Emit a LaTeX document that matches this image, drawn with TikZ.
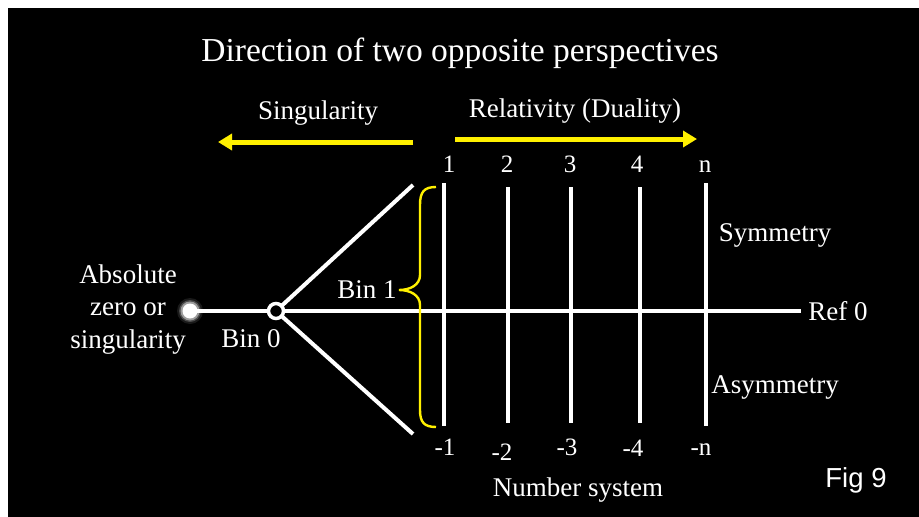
\documentclass[tikz,border=0pt]{standalone}
\usepackage{fontspec}
\setmainfont{Liberation Serif}
\newfontfamily\figfont{Liberation Sans}
\usetikzlibrary{arrows.meta}
\definecolor{arrowyellow}{RGB}{255,240,0}
\begin{document}
\begin{tikzpicture}[x=1pt,y=-1pt,
  lbl/.style={text=white,font=\fontsize{27}{30}\selectfont,inner sep=0pt,anchor=base},
  numlbl/.style={text=white,font=\fontsize{25}{30}\selectfont,inner sep=0pt,anchor=base},
  wline/.style={draw=white,line width=4pt},
  yarrow/.style={draw=arrowyellow,line width=5pt,-{Triangle[length=14pt,width=16pt]}}]
\useasboundingbox (0,0) rectangle (919,517);
\fill[white] (0,0) rectangle (919,517);
\fill[black] (8,8) rectangle (919,517);
% title and directions
\node[lbl,font=\fontsize{33.5}{38}\selectfont] (title) at (460,61) {Direction of two opposite perspectives};
\node[lbl] (sing) at (318,119) {Singularity};
\node[lbl] (rel) at (575,117) {Relativity (Duality)};
\coordinate (la) at (413,142);
\coordinate (lb) at (218,142);
\coordinate (ra) at (455,139);
\coordinate (rb) at (697,139);
\draw[yarrow] (la) -- (lb);
\draw[yarrow] (ra) -- (rb);
% top numbers
\node[numlbl] (t1) at (449,172) {1};
\node[numlbl] (t2) at (507,172) {2};
\node[numlbl] (t3) at (570,172) {3};
\node[numlbl] (t4) at (637,172) {4};
\node[numlbl] (tn) at (705,172) {n};
% vertical lines
\coordinate (v1a) at (444,183); \coordinate (v1b) at (444,426);
\coordinate (v2a) at (508,187); \coordinate (v2b) at (508,423);
\coordinate (v3a) at (571,187); \coordinate (v3b) at (571,423);
\coordinate (v4a) at (640,187); \coordinate (v4b) at (640,423);
\coordinate (vna) at (706,183); \coordinate (vnb) at (706,426);
\draw[wline] (v1a) -- (v1b);
\draw[wline] (v2a) -- (v2b);
\draw[wline] (v3a) -- (v3b);
\draw[wline] (v4a) -- (v4b);
\draw[wline] (vna) -- (vnb);
% main axis
\coordinate (dot) at (190,311);
\coordinate (bin0) at (276,311);
\coordinate (axend) at (801,311);
\draw[wline] (dot) -- (axend);
\coordinate (d1) at (413,185);
\coordinate (d2) at (413,434);
\draw[wline] (bin0) -- (d1);
\draw[wline] (bin0) -- (d2);
% glowing dot
\foreach \r/\o in {13/0.1,11/0.22,9.5/0.45}{\fill[white,opacity=\o] (dot) circle (\r);}
\fill[white] (dot) circle (7.5);
\filldraw[draw=white,fill=black,line width=3.5pt] (bin0) circle (7.5);
% brace
\draw[arrowyellow,line width=2.4pt] (436,187) .. controls (424,187) and (420,192) .. (420,205)
  -- (420,275) .. controls (420,285) and (410,290) .. (399,290)
  .. controls (410,290) and (420,295) .. (420,305)
  -- (420,410) .. controls (420,422) and (424,427) .. (436,427);
% labels
\node[lbl] (b1) at (367,298) {Bin 1};
\node[lbl] (b0) at (251,347) {Bin 0};
\node[lbl] (abs1) at (128,283) {Absolute};
\node[lbl] (abs2) at (128,315) {zero or};
\node[lbl] (abs3) at (128,348) {singularity};
\node[lbl] (ref) at (838,320) {Ref 0};
\node[lbl] (sym) at (775,241) {Symmetry};
\node[lbl] (asym) at (775,393) {Asymmetry};
% bottom numbers
\node[numlbl] (m1) at (445,455) {-1};
\node[numlbl] (m2) at (502,460) {-2};
\node[numlbl] (m3) at (567,455) {-3};
\node[numlbl] (m4) at (633,456) {-4};
\node[numlbl] (mn) at (701,455) {-n};
\node[lbl] (ns) at (578,496) {Number system};
\node[text=white,font=\figfont\fontsize{27.5}{30}\selectfont,inner sep=0pt,anchor=base] (fig) at (856,487) {Fig 9};
\end{tikzpicture}
\end{document}
